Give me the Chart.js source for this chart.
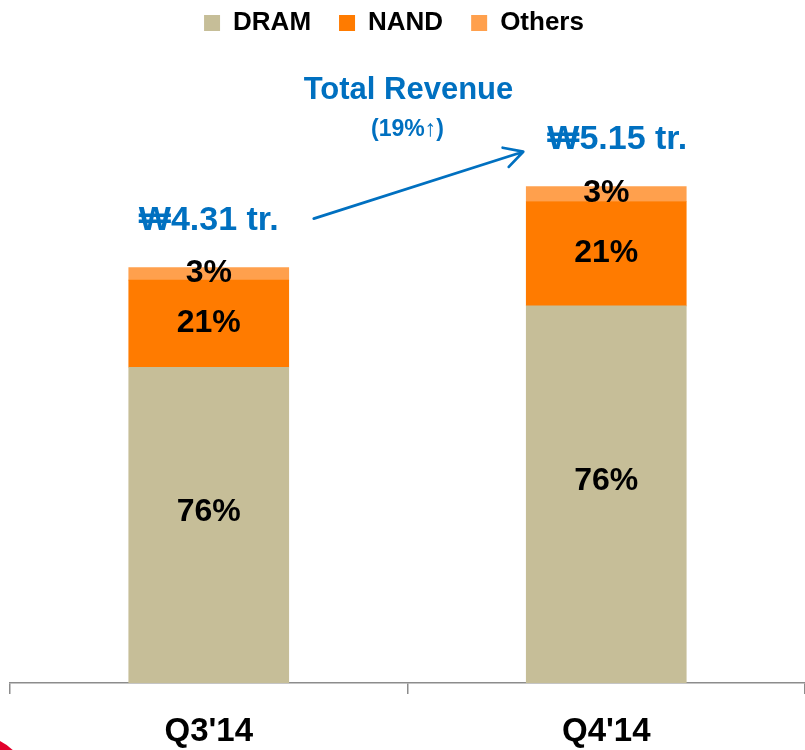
<!DOCTYPE html>
<html>
<head>
<meta charset="utf-8">
<script src="https://cdn.jsdelivr.net/npm/chart.js@4"></script>
<style>
  html, body { margin: 0; padding: 0; background: #fff; }
  #wrap { width: 805px; height: 750px; position: relative; }
</style>
</head>
<body>
<div id="wrap"><canvas id="chartRevenue"></canvas></div>
<script>
const QUARTERS = ["Q3'14", "Q4'14"];
const TOTAL_REVENUE = [4.31, 5.15]; // KRW trillion
const SHARE_DRAM = [76, 76];
const SHARE_NAND = [21, 21];
const SHARE_OTHERS = [3, 3];
const TOTAL_LABELS = ["₩4.31 tr.", "₩5.15 tr."];
const GROWTH_TITLE = "Total Revenue";
const GROWTH_NOTE = "(19%↑)";

const FONT = '"Liberation Sans", Arial, sans-serif';
const BLUE = "#0070C0";

const SERIES = [
  { label: "DRAM", shares: SHARE_DRAM, color: "#C6BE98", labelShift: -13 },
  { label: "NAND", shares: SHARE_NAND, color: "#FF7B00", labelShift: -1 },
  { label: "Others", shares: SHARE_OTHERS, color: "#FFA04D", labelShift: -1 },
];

function segValues(shares) {
  return TOTAL_REVENUE.map((t, i) => +(t * shares[i] / 100).toFixed(3));
}

// nudge the legend a little left, as in the slide
const legendNudge = {
  id: "legendNudge",
  afterLayout(chart) {
    const lg = chart.legend;
    if (!lg) return;
    lg.left -= 15;
    lg.right -= 15;
  },
};

const revenueLabels = {
  id: "revenueLabels",
  afterDatasetsDraw(chart) {
    const ctx = chart.ctx;
    ctx.save();
    ctx.textAlign = "center";
    ctx.textBaseline = "middle";
    // percentages inside segments
    ctx.fillStyle = "#000";
    ctx.font = "bold 32px " + FONT;
    SERIES.forEach((s, di) => {
      chart.getDatasetMeta(di).data.forEach((bar, i) => {
        ctx.fillText(s.shares[i] + "%", bar.x, (bar.y + bar.base) / 2 + s.labelShift);
      });
    });
    // totals above bars
    const topBars = chart.getDatasetMeta(SERIES.length - 1).data;
    const totalX = topBars.map((bar, i) => bar.x + (i === 1 ? 11 : 0));
    const totalY = topBars.map((bar) => bar.y - 47);
    ctx.fillStyle = BLUE;
    ctx.font = "bold 34px " + FONT;
    topBars.forEach((bar, i) => ctx.fillText(TOTAL_LABELS[i], totalX[i], totalY[i]));
    // growth note
    const midX = (topBars[0].x + topBars[1].x) / 2;
    ctx.font = "bold 31px " + FONT;
    ctx.fillText(GROWTH_TITLE, midX + 1, totalY[1] - 49);
    ctx.font = "bold 23px " + FONT;
    ctx.fillText(GROWTH_NOTE, midX, totalY[1] - 10);
    // arrow
    const half = topBars[0].width / 2;
    const x0 = topBars[0].x + half + 25, y0 = totalY[0] - 2;
    const x1 = topBars[1].x - half - 3, y1 = totalY[1] + 12;
    const ang = Math.atan2(y1 - y0, x1 - x0);
    ctx.strokeStyle = BLUE;
    ctx.lineWidth = 2.7;
    ctx.lineCap = "round";
    ctx.lineJoin = "round";
    ctx.beginPath();
    ctx.moveTo(x0, y0);
    ctx.lineTo(x1, y1);
    ctx.moveTo(x1 - 21 * Math.cos(ang - 0.5), y1 - 21 * Math.sin(ang - 0.5));
    ctx.lineTo(x1, y1);
    ctx.lineTo(x1 - 21 * Math.cos(ang + 0.5), y1 - 21 * Math.sin(ang + 0.5));
    ctx.stroke();
    // corner logo fragment
    ctx.fillStyle = "#E2002B";
    ctx.beginPath();
    ctx.arc(-25, 790, 55, 0, Math.PI * 2);
    ctx.fill();
    ctx.restore();
  },
};

new Chart(document.getElementById("chartRevenue"), {
  type: "bar",
  data: {
    labels: QUARTERS,
    datasets: SERIES.map((s) => ({
      label: s.label,
      data: segValues(s.shares),
      backgroundColor: s.color,
      borderWidth: 0,
      barThickness: 160,
    })),
  },
  options: {
    responsive: true,
    maintainAspectRatio: false,
    animation: false,
    layout: { padding: { left: 10, right: -3, top: -18, bottom: 0 } },
    scales: {
      x: {
        stacked: true,
        grid: {
          offset: true,
          drawOnChartArea: false,
          tickLength: 11,
          color: "#8c8c8c",
          lineWidth: 1.5,
        },
        border: { color: "#8c8c8c", width: 1.5 },
        ticks: {
          color: "#000",
          font: { size: 33, weight: "bold", family: FONT },
          padding: 18,
        },
        afterFit(scale) {
          scale.height = 67;
        },
      },
      y: {
        stacked: true,
        display: false,
        min: 0,
        max: 6.61,
      },
    },
    plugins: {
      legend: {
        position: "top",
        labels: {
          boxWidth: 16,
          boxHeight: 16,
          padding: 28,
          color: "#000",
          font: { size: 26, weight: "bold", family: FONT },
        },
      },
      tooltip: { enabled: false },
    },
  },
  plugins: [legendNudge, revenueLabels],
});
</script>
</body>
</html>
